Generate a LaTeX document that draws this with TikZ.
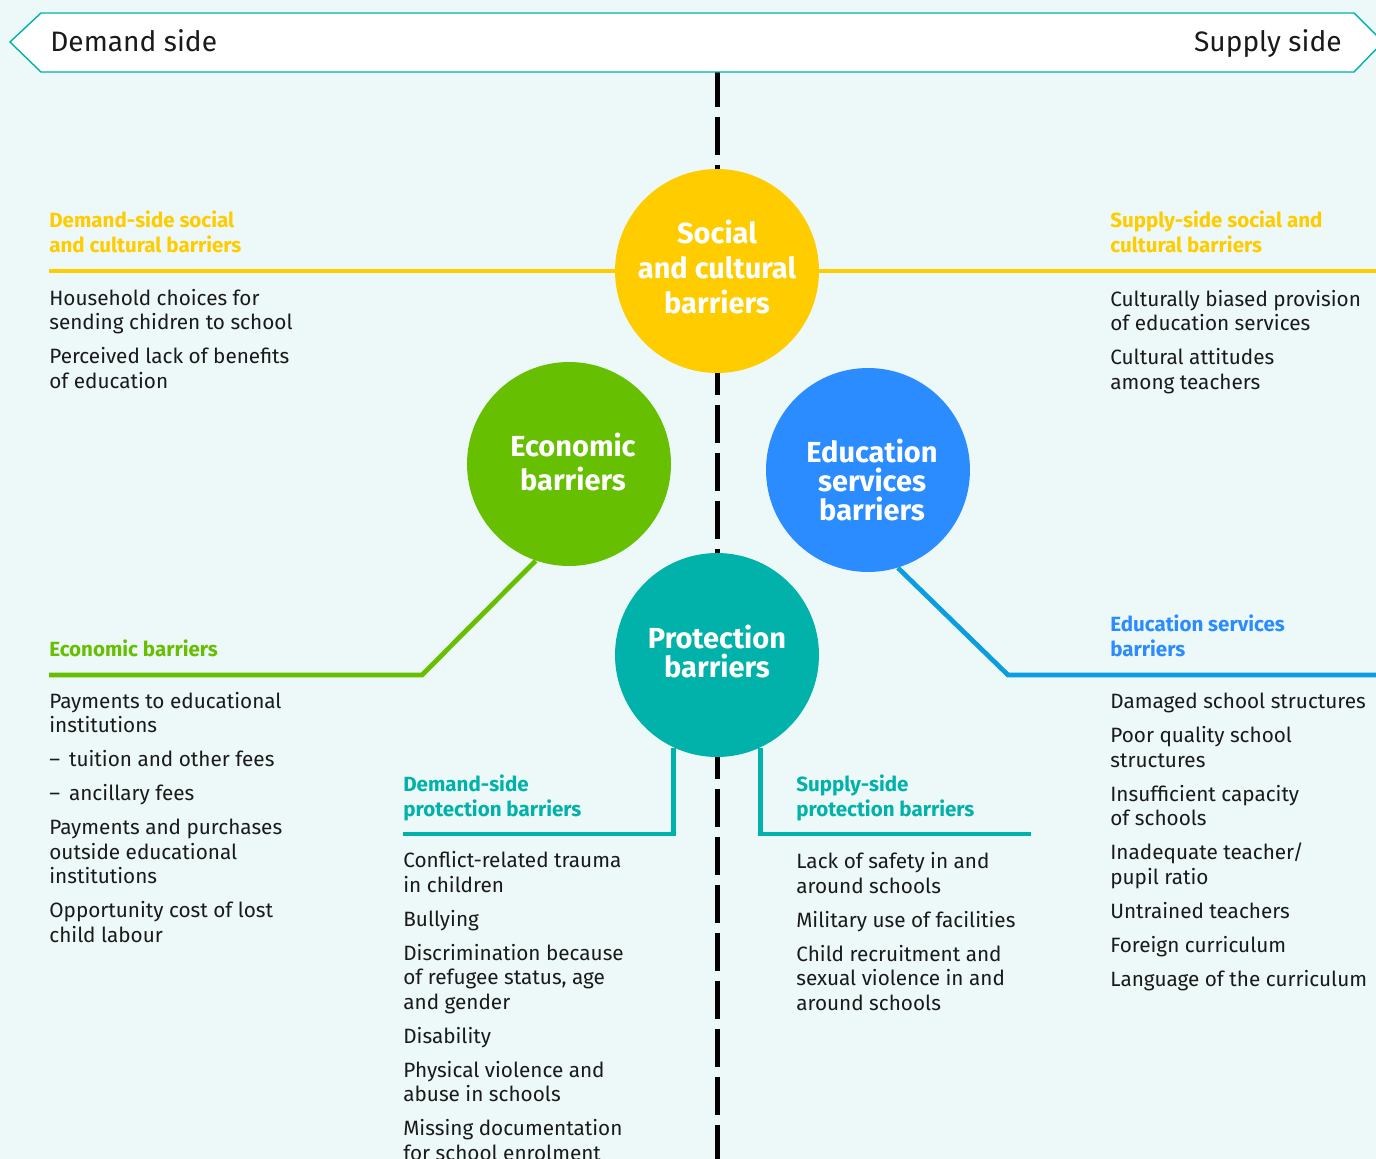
\documentclass[tikz,border=0pt]{standalone}
\usepackage{fontspec}
\setmainfont{Fira Sans}
\usetikzlibrary{calc}
\definecolor{bgc}{HTML}{EDF8F8}
\definecolor{ylw}{HTML}{FFCC00}
\definecolor{grn}{HTML}{66BF00}
\definecolor{blu}{HTML}{2B8CFF}
\definecolor{bluline}{HTML}{0A9DE0}
\definecolor{tea}{HTML}{00B2A9}
\definecolor{txtd}{HTML}{1A1A1A}
\tikzset{
  bodytxt/.style={anchor=base west, align=left, inner sep=0pt, text=txtd,
    font=\fontsize{11.8}{13.94}\selectfont},
  hdrtxt/.style={anchor=base west, align=left, inner sep=0pt,
    font=\bfseries\fontsize{11.7}{13.94}\selectfont},
  bubble/.style={circle, inner sep=0pt, minimum size=4.08cm},
  bubtxt/.style={align=center, inner sep=0pt, text=white,
    font=\bfseries\fontsize{16.5}{19.9}\selectfont},
  bubtxttight/.style={bubtxt, font=\bfseries\fontsize{16.5}{16.5}\selectfont},
  conn/.style={line width=2.7pt},
  bannertxt/.style={inner sep=0pt, text=txtd, font=\fontsize{16}{19}\selectfont}
}
\newcommand{\pg}{\\[5.4pt]}
\begin{document}
\begin{tikzpicture}[x=0.02cm,y=-0.02cm]
% background
\fill[bgc] (0,0) rectangle (1376,1159);
\useasboundingbox (0,0) rectangle (1376,1159);

% central dashed axis
\coordinate (dtop) at (717,69);
\coordinate (dbot) at (717,1170);
\draw[line width=2.85pt, dash pattern=on 0.76cm off 0.2cm] (dtop) -- (dbot);

% banner
\draw[tea, line width=0.8pt, fill=white]
  (10,42) -- (41,13) -- (1354,13) -- (1383,42) -- (1354,72) -- (41,72) -- cycle;
\node[bannertxt, anchor=base west] (demand) at (50,52) {Demand side};
\node[bannertxt, anchor=base east] (supply) at (1342,52) {Supply side};

% bubbles
\node[bubble, fill=ylw] (soc) at (717,271) {};
\node[bubble, fill=grn] (eco) at (569,464) {};
\node[bubble, fill=blu] (edu) at (868,470) {};
\node[bubble, fill=tea] (pro) at (717,655) {};

% connector end points
\coordinate (socL) at (49,271);
\coordinate (socR) at (1380,271);
\coordinate (ecoK) at (422,675);
\coordinate (ecoL) at (49,675);
\coordinate (eduK) at (1008,675);
\coordinate (eduR) at (1380,675);
\coordinate (proL) at (403,834);
\coordinate (proR) at (1031,834);

% connectors
\draw[conn, ylw] (soc.west) -- (socL);
\draw[conn, ylw] (soc.east) -- (socR);
\draw[conn, grn, line join=miter] (eco.251.6) -- (ecoK) -- (ecoL);
\draw[conn, bluline, line join=miter] (edu.287.5) -- (eduK) -- (eduR);
\draw[conn, tea, line join=miter] (pro.245) |- (proL);
\draw[conn, tea, line join=miter] (pro.295) |- (proR);

% bubble texts
\node[bubtxt] (soct) at ($(soc)+(0,-4)$) {Social\\and cultural\\barriers};
\node[bubtxt] (ecot) at ($(eco)+(4,-2)$) {Economic\\barriers};
\node[bubtxttight] (edut) at ($(edu)+(4,10)$) {Education\\services\\barriers};
\node[bubtxttight] (prot) at ($(pro)+(0,-4)$) {Protection\\barriers};

% headers (anchored at the baseline of their last line)
\node[hdrtxt, text=ylw] (hsocL) at (49,252) {Demand-side social\\and cultural barriers};
\node[hdrtxt, text=ylw] (hsocR) at (1110,252) {Supply-side social and\\cultural barriers};
\node[hdrtxt, text=grn] (heco) at (49,656) {Economic barriers};
\node[hdrtxt, text=blu] (hedu) at (1110,656) {Education services\\barriers};
\node[hdrtxt, text=tea] (hproL) at (403,816) {Demand-side\\protection barriers};
\node[hdrtxt, text=tea] (hproR) at (796,816) {Supply-side\\protection barriers};

% item lists (anchored at the baseline of their last line)
\node[bodytxt] (lsocL) at (49,388) {Household choices for\\sending chidren to school\pg
  Perceived lack of benefits\\of education};
\node[bodytxt] (lsocR) at (1110,389) {Culturally biased provision\\of education services\pg
  Cultural attitudes\\among teachers};
\node[bodytxt] (leco) at (49,942) {Payments to educational\\institutions\pg
  – \,tuition and other fees\pg
  – \,ancillary fees\pg
  Payments and purchases\\outside educational\\institutions\pg
  Opportunity cost of lost\\child labour};
\node[bodytxt] (ledu) at (1110,986) {Damaged school structures\pg
  Poor quality school\\structures\pg
  Insufficient capacity\\of schools\pg
  Inadequate teacher/\\pupil ratio\pg
  Untrained teachers\pg
  Foreign curriculum\pg
  Language of the curriculum};
\node[bodytxt] (lproL) at (403,1160) {Conflict-related trauma\\in children\pg
  Bullying\pg
  Discrimination because\\of refugee status, age\\and gender\pg
  Disability\pg
  Physical violence and\\abuse in schools\pg
  Missing documentation\\for school enrolment};
\node[bodytxt] (lproR) at (796,1010) {Lack of safety in and\\around schools\pg
  Military use of facilities\pg
  Child recruitment and\\sexual violence in and\\around schools};
\end{tikzpicture}
\end{document}
